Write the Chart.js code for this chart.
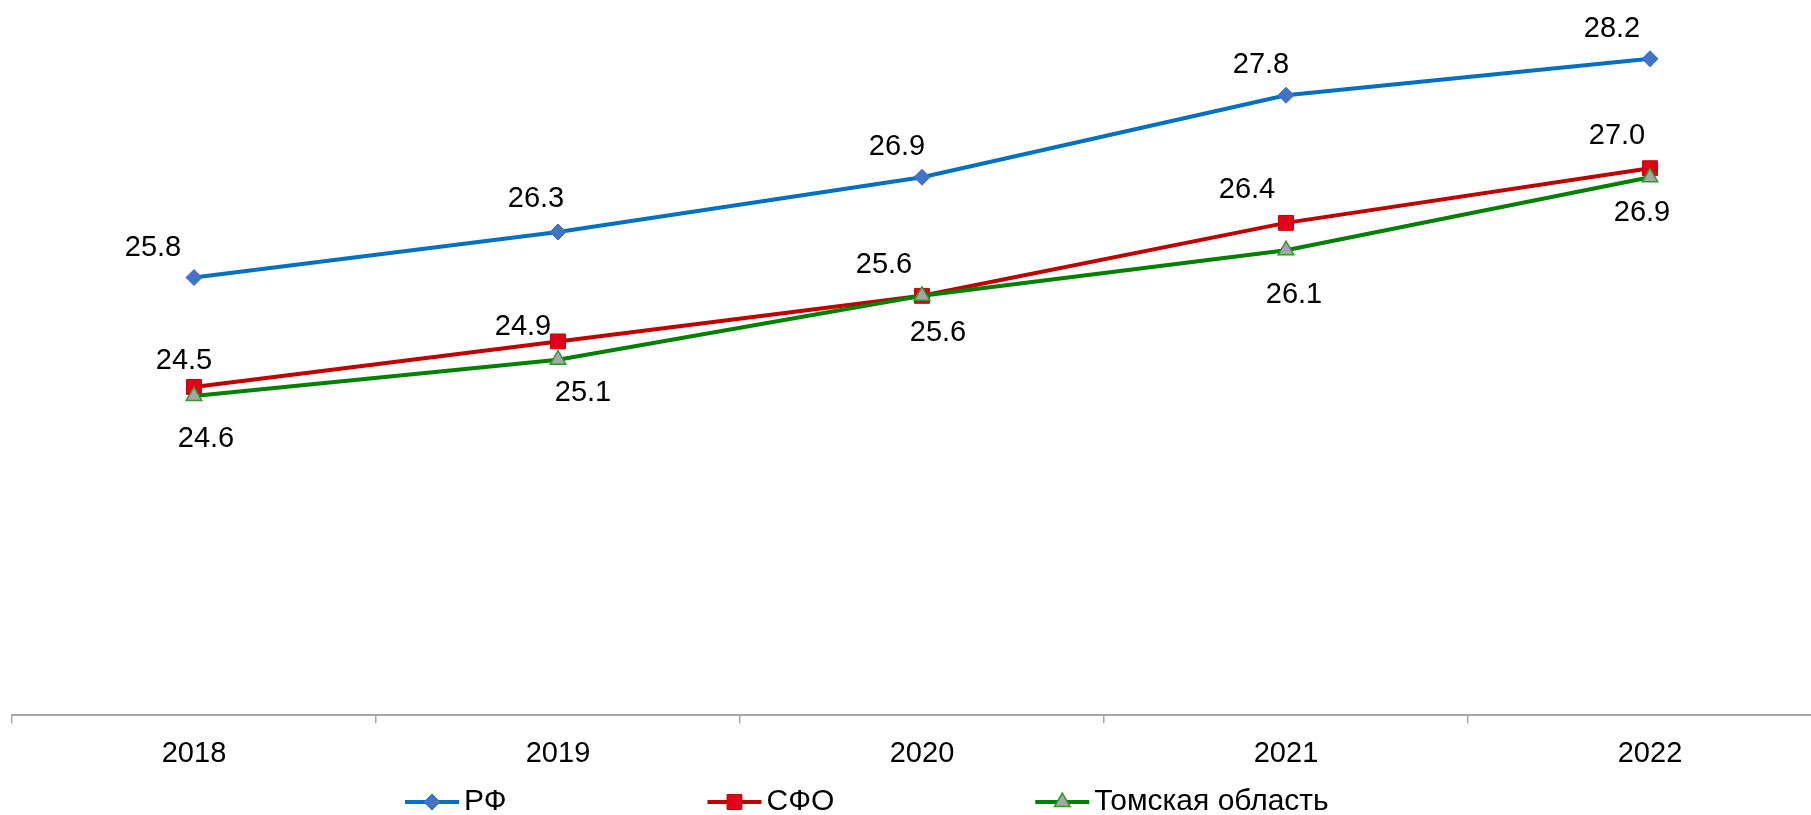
<!DOCTYPE html>
<html>
<head>
<meta charset="utf-8">
<script src="https://cdn.jsdelivr.net/npm/chart.js@4.4.0/dist/chart.umd.min.js"></script>
<style>
  html, body { margin: 0; padding: 0; background: #fff; overflow: hidden; }
  #wrap { width: 1840px; height: 815px; }
</style>
</head>
<body>
<div id="wrap"><canvas id="chart" width="1840" height="815"></canvas></div>
<script>
// Data
const years = ['2018', '2019', '2020', '2021', '2022'];
const rfValues = [25.8, 26.3, 26.9, 27.8, 28.2];
const sfoValues = [24.6, 25.1, 25.6, 26.4, 27.0];
const tomskValues = [24.5, 24.9, 25.6, 26.1, 26.9];
const seriesNames = ['РФ', 'СФО', 'Томская область'];

// Data label shifts (px from the point), labels were hand-placed in the original
const labelShift = [
  [[-41, -30], [-22, -33], [-25, -30], [-25, -30], [-38, -30]],
  [[12, 52], [25, 52], [-38, -31], [-39, -33], [-33, -32]],
  [[-10, -35], [-35, -33], [16, 37], [8, 45], [-8, 36]]
];

const FONT = '"Liberation Sans", Arial, sans-serif';

/**
 * Value labels next to each point
 */
const valueLabels = {
  id: 'valueLabels',
  afterDatasetsDraw(chart) {
    const ctx = chart.ctx;
    ctx.save();
    ctx.font = '29px ' + FONT;
    ctx.fillStyle = '#000';
    ctx.textAlign = 'center';
    ctx.textBaseline = 'middle';
    chart.data.datasets.forEach((ds, i) => {
      const meta = chart.getDatasetMeta(i);
      meta.data.forEach((pt, j) => {
        const [dx, dy] = labelShift[i][j];
        ctx.fillText(ds.data[j].toFixed(1), pt.x + dx, pt.y + dy);
      });
    });
    ctx.restore();
  }
};

/**
 * Legend drawn like the Excel one: line + marker, then the name
 */
const bottomLegend = {
  id: 'bottomLegend',
  afterDraw(chart) {
    const ctx = chart.ctx;
    let x = 405;
    const y = 802;
    ctx.save();
    ctx.font = '30px ' + FONT;
    ctx.textBaseline = 'middle';
    ctx.textAlign = 'left';
    chart.data.datasets.forEach(ds => {
      ctx.strokeStyle = ds.borderColor;
      ctx.lineWidth = ds.borderWidth;
      ctx.beginPath();
      ctx.moveTo(x, y);
      ctx.lineTo(x + 54, y);
      ctx.stroke();
      ctx.fillStyle = ds.pointBackgroundColor;
      ctx.strokeStyle = ds.pointBorderColor;
      ctx.lineWidth = ds.pointBorderWidth;
      Chart.helpers.drawPoint(ctx, {
        pointStyle: ds.pointStyle,
        radius: ds.pointRadius,
        borderWidth: ds.pointBorderWidth,
        rotation: 0
      }, x + 27, y);
      ctx.fillStyle = '#000';
      ctx.fillText(ds.label, x + 59, y);
      x += 59 + ctx.measureText(ds.label).width + 201;
    });
    ctx.restore();
  }
};

const ctx = document.getElementById('chart').getContext('2d');

new Chart(ctx, {
  type: 'line',
  data: {
    labels: years,
    datasets: [
      {
        label: seriesNames[0],
        data: rfValues,
        borderColor: '#0070C0',
        borderWidth: 4,
        pointStyle: 'rectRot',
        pointRadius: 8,
        pointBackgroundColor: '#4472C4',
        pointBorderColor: '#2E75D0',
        pointBorderWidth: 1,
        order: 3
      },
      {
        label: seriesNames[1],
        data: sfoValues,
        borderColor: '#C00000',
        borderWidth: 4,
        pointStyle: 'rect',
        pointRadius: 10.5,
        pointBackgroundColor: '#E2001A',
        pointBorderColor: '#C00000',
        pointBorderWidth: 1,
        order: 2
      },
      {
        label: seriesNames[2],
        data: tomskValues,
        borderColor: '#008000',
        borderWidth: 4,
        pointStyle: 'triangle',
        pointRadius: 9,
        pointBackgroundColor: '#A6A6A6',
        pointBorderColor: '#2E9A2E',
        pointBorderWidth: 1.5,
        order: 1
      }
    ]
  },
  options: {
    responsive: false,
    animation: false,
    tension: 0,
    layout: {
      autoPadding: false,
      padding: { left: 12, right: 8, top: 5, bottom: 31 }
    },
    plugins: {
      legend: { display: false },
      tooltip: { enabled: false }
    },
    scales: {
      x: {
        offset: true,
        grid: {
          display: true,
          offset: true,
          drawOnChartArea: false,
          drawTicks: true,
          tickLength: 8,
          color: '#A6A6A6',
          lineWidth: 1.5
        },
        border: { display: true, color: '#A6A6A6', width: 2 },
        ticks: {
          color: '#000',
          padding: 13,
          font: { family: FONT, size: 29 }
        }
      },
      y: {
        display: false,
        min: 21,
        max: 28.79
      }
    }
  },
  plugins: [valueLabels, bottomLegend]
});
</script>
</body>
</html>
